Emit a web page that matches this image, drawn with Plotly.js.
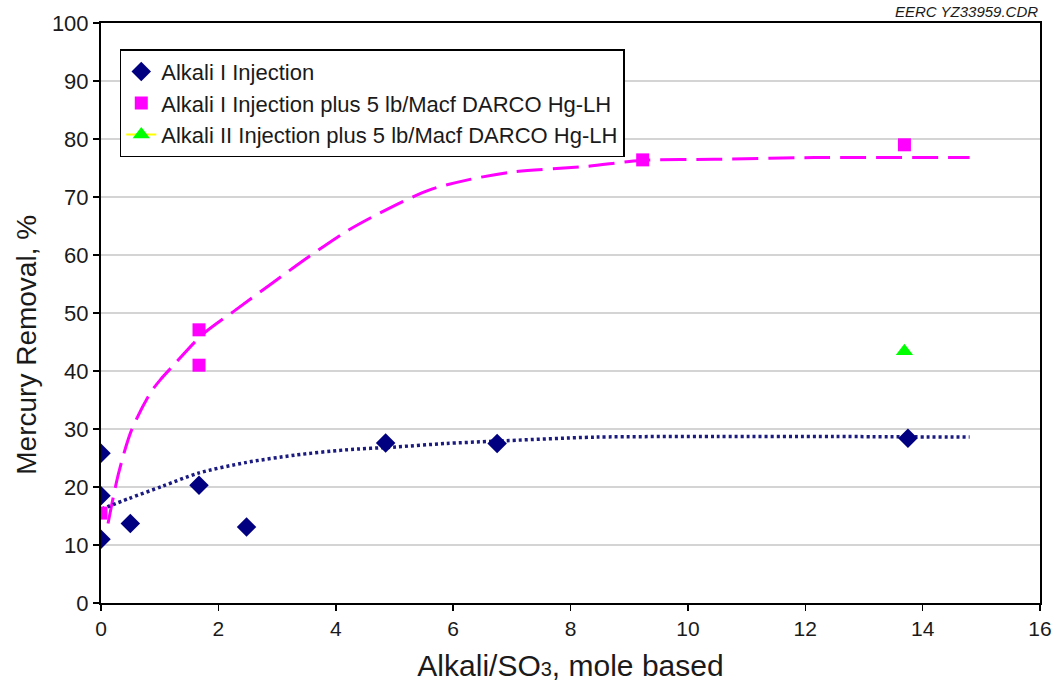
<!DOCTYPE html>
<html>
<head>
<meta charset="utf-8">
<script src="https://cdn.plot.ly/plotly-3.0.1.min.js"></script>
<style>html,body{margin:0;padding:0;background:#fff;}#chart{width:1052px;height:683px;}</style>
</head>
<body>
<div id="chart"></div>
<script>
// Data series
const alkaliIX = [0, 0, 0, 0.5, 1.67, 2.48, 4.85, 6.75, 13.75];
const alkaliIY = [25.8, 18.5, 11.0, 13.7, 20.3, 13.1, 27.6, 27.5, 28.4];

const alkaliIDarcoX = [0, 1.67, 1.67, 9.23, 13.69];
const alkaliIDarcoY = [15.5, 47.1, 41.0, 76.4, 79.0];

const alkaliIIDarcoX = [13.69];
const alkaliIIDarcoY = [43.4];

// Trend lines
const trendDarcoX = [0.12, 0.30, 0.52, 0.84, 1.02, 1.21, 1.72, 2.29, 2.91, 3.54, 4.22, 4.90, 5.59, 6.27, 7.0, 8.29, 9.2, 10.44, 12.15, 14.8];
const trendDarcoY = [13.7, 22.4, 29.8, 36.2, 38.6, 40.7, 46.2, 50.5, 55.1, 59.7, 64.3, 68.0, 71.2, 73.0, 74.3, 75.3, 76.3, 76.5, 76.8, 76.8];

const trendAlkaliX = [0.01, 0.47, 1.04, 1.66, 2.46, 3.31, 4.16, 5.02, 5.87, 6.72, 8.43, 10.5, 12.5, 14.8];
const trendAlkaliY = [16.2, 18.0, 20.1, 22.4, 24.2, 25.5, 26.4, 26.9, 27.5, 27.9, 28.6, 28.7, 28.7, 28.6];

const seriesNames = [
  'Alkali I Injection',
  'Alkali I Injection plus 5 lb/Macf DARCO Hg-LH',
  'Alkali II Injection plus 5 lb/Macf DARCO Hg-LH'
];
const xTicks = [0, 2, 4, 6, 8, 10, 12, 14, 16];
const yTicks = [0, 10, 20, 30, 40, 50, 60, 70, 80, 90, 100];
const xTitle = 'Alkali/SO<span style="font-size:20px">3</span>, mole based';
const yTitle = 'Mercury Removal, %';
const stamp = 'EERC YZ33959.CDR';

const FONT = 'Liberation Sans, Arial, sans-serif';
const TXT = '#1a1a1a';

const traces = [
  {x: trendDarcoX, y: trendDarcoY, mode: 'lines', showlegend: false, hoverinfo: 'skip',
   line: {color: '#ff00ff', width: 3, dash: '26px,10px', shape: 'spline', smoothing: 0.8}},
  {x: trendAlkaliX, y: trendAlkaliY, mode: 'lines', showlegend: false, hoverinfo: 'skip',
   line: {color: '#1a1a80', width: 3.5, dash: '3px,3px', shape: 'spline', smoothing: 0.8}},
  {x: alkaliIX, y: alkaliIY, mode: 'markers', name: seriesNames[0],
   marker: {symbol: 'diamond', size: 15, color: '#000080'}},
  {x: alkaliIDarcoX, y: alkaliIDarcoY, mode: 'markers', name: seriesNames[1],
   marker: {symbol: 'square', size: 13, color: '#ff00ff'}},
  {x: alkaliIIDarcoX, y: alkaliIIDarcoY, mode: 'lines+markers', name: seriesNames[2],
   line: {color: '#ffff00', width: 2},
   marker: {symbol: 'triangle-up', size: 15, color: '#00ff00'}}
];

const layout = {
  width: 1052, height: 683,
  paper_bgcolor: '#ffffff', plot_bgcolor: '#ffffff',
  margin: {l: 101, r: 12, t: 23, b: 80},
  font: {family: FONT, color: TXT},
  showlegend: true,
  legend: {
    x: 0.02, y: 0.955, xanchor: 'left', yanchor: 'top',
    bgcolor: '#ffffff', bordercolor: '#000000', borderwidth: 1.5,
    font: {family: FONT, size: 22, color: TXT},
    tracegroupgap: 0, itemwidth: 30
  },
  xaxis: {
    range: [0, 16], tickvals: xTicks, ticktext: xTicks.map(String),
    showgrid: false, zeroline: false,
    showline: true, linecolor: '#000000', linewidth: 2, mirror: true,
    ticks: 'outside', ticklen: 6, tickwidth: 1.5, tickcolor: '#000000',
    tickfont: {family: FONT, size: 21, color: TXT},
    title: {text: xTitle, font: {family: FONT, size: 30, color: TXT}, standoff: 16}
  },
  yaxis: {
    range: [0, 100], tickvals: yTicks, ticktext: yTicks.map(String),
    showgrid: true, gridcolor: '#d4d4d4', gridwidth: 1.5, zeroline: false,
    showline: true, linecolor: '#000000', linewidth: 2, mirror: true,
    ticks: 'outside', ticklen: 6, tickwidth: 1.5, tickcolor: '#000000',
    tickfont: {family: FONT, size: 22, color: TXT}
  },
  annotations: [
    {
      xref: 'paper', yref: 'paper', x: 1, y: 1, xanchor: 'right', yanchor: 'bottom', yshift: 1,
      text: '<i>' + stamp + '</i>', showarrow: false,
      font: {family: FONT, size: 15, color: TXT}
    },
    {
      xref: 'paper', yref: 'paper', x: -0.079, y: 0.445, xanchor: 'center', yanchor: 'middle',
      textangle: -90, text: yTitle, showarrow: false,
      font: {family: FONT, size: 28, color: TXT}
    }
  ]
};

Plotly.newPlot('chart', traces, layout, {displayModeBar: false, staticPlot: true});
</script>
</body>
</html>
